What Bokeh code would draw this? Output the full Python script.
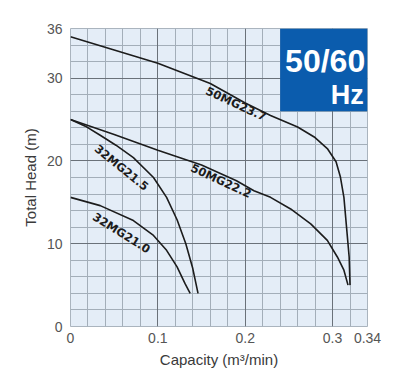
from bokeh.plotting import figure
from bokeh.models import Range1d, FixedTicker, Grid, Label, BoxAnnotation
from bokeh.core.properties import value
from bokeh.embed import file_html
from bokeh.resources import INLINE
import math

# ---- data ----
q_50MG23_7 = [0.0, 0.05, 0.10, 0.149, 0.160, 0.200, 0.229, 0.260, 0.279, 0.294, 0.304, 0.309, 0.313, 0.316, 0.319, 0.320]
h_50MG23_7 = [35.0, 33.4, 31.8, 29.8, 29.35, 27.0, 25.5, 24.1, 22.9, 21.5, 19.9, 18.05, 15.6, 12.0, 8.4, 5.0]

q_50MG22_2 = [0.0, 0.05, 0.10, 0.150, 0.190, 0.210, 0.229, 0.252, 0.275, 0.294, 0.3055, 0.313, 0.3177]
h_50MG22_2 = [25.0, 23.2, 21.3, 19.5, 17.6, 16.4, 15.6, 14.2, 12.4, 10.4, 8.4, 6.8, 5.0]

q_32MG21_5 = [0.0, 0.017, 0.034, 0.052, 0.072, 0.095, 0.110, 0.122, 0.132, 0.140, 0.146]
h_32MG21_5 = [25.0, 24.2, 23.1, 21.9, 20.4, 18.0, 15.6, 12.9, 10.0, 7.0, 4.0]

q_32MG21_0 = [0.0, 0.034, 0.072, 0.095, 0.110, 0.122, 0.131, 0.137]
h_32MG21_0 = [15.6, 14.6, 12.8, 11.0, 9.2, 7.2, 5.2, 4.0]

series_names = ["50MG23.7", "50MG22.2", "32MG21.5", "32MG21.0"]
series_q = [q_50MG23_7, q_50MG22_2, q_32MG21_5, q_32MG21_0]
series_h = [h_50MG23_7, h_50MG22_2, h_32MG21_5, h_32MG21_0]

# curve label placement (x, y in data units, angle in degrees)
label_x = [0.1896, 0.1724, 0.0584, 0.0584]
label_y = [26.9, 17.6, 19.2, 11.3]
label_angle = [-25, -25, -39, -32]

x_ticks = [0, 0.1, 0.2, 0.3, 0.34]
x_tick_labels = ["0", "0.1", "0.2", "0.3", "0.34"]
y_ticks = [0, 10, 20, 30, 36]

X_MAX = 0.34
Y_MAX = 36

FONT = "Liberation Sans"

p = figure(frame_width=297, frame_height=298, output_backend="svg", toolbar_location=None,
           x_range=Range1d(0, X_MAX), y_range=Range1d(0, Y_MAX),
           min_border_left=70, min_border_right=25, min_border_top=28, min_border_bottom=50)
p.background_fill_color = "#e4edf7"
p.border_fill_color = "white"
p.outline_line_color = "#aab4be"
p.outline_line_width = 1

p.xgrid.visible = False
p.ygrid.visible = False

minor_x = [round(i * 0.02, 2) for i in range(18)]
minor_y = [i * 2 for i in range(19)]
major_x = [0, 0.1, 0.2, 0.3]
major_y = [0, 10, 20, 30]

for dim, ticks, col in [(0, minor_x, "#a3aeb9"), (1, minor_y, "#a3aeb9"),
                        (0, major_x, "#6a7179"), (1, major_y, "#6a7179")]:
    g = Grid(dimension=dim, ticker=FixedTicker(ticks=ticks), grid_line_color=col, grid_line_width=1)
    p.add_layout(g)

for ax in (p.xaxis[0], p.yaxis[0]):
    ax.axis_line_color = None
    ax.major_tick_line_color = None
    ax.minor_tick_line_color = None
    ax.major_tick_in = 0
    ax.major_tick_out = 0
    ax.minor_tick_out = 0
    ax.major_label_text_font = FONT
    ax.major_label_text_font_size = "14px"
    ax.major_label_text_color = "#555555"
    ax.axis_label_text_font = FONT
    ax.axis_label_text_font_size = "15px"
    ax.axis_label_text_font_style = "normal"
    ax.axis_label_text_color = "#3a3a3a"

p.xaxis.ticker = FixedTicker(ticks=x_ticks)
p.xaxis.major_label_overrides = {t: s for t, s in zip(x_ticks, x_tick_labels)}
p.yaxis.ticker = FixedTicker(ticks=y_ticks)
p.xaxis.major_label_standoff = 6
p.yaxis.major_label_standoff = 8
p.xaxis.axis_label = "Capacity (m³/min)"
p.yaxis.axis_label = "Total Head (m)"
p.xaxis.axis_label_standoff = 5
p.yaxis.axis_label_standoff = 5

for q, h in zip(series_q, series_h):
    p.line(q, h, line_color="#1c1c1c", line_width=1.6)

for name, lx, ly, la in zip(series_names, label_x, label_y, label_angle):
    p.text(x=[lx], y=[ly], text=[name], angle=math.radians(la),
           text_font=value("DejaVu Sans"), text_font_style="bold", text_font_size="11.5px",
           text_color="#1c1c1c", text_align="center", text_baseline="middle")

# 50/60 Hz badge
p.add_layout(BoxAnnotation(left=0.24, right=X_MAX, bottom=26, top=Y_MAX,
                           fill_color="#0b5cad", fill_alpha=1.0, line_color=None))
p.add_layout(Label(x=0.2915, y=32.1, text="50/60", text_color="white",
                   text_font=FONT, text_font_style="bold", text_font_size="32px",
                   text_align="center", text_baseline="middle"))
p.add_layout(Label(x=0.3356, y=28.0, text="Hz", text_color="white",
                   text_font=FONT, text_font_style="bold", text_font_size="27px",
                   text_align="right", text_baseline="middle"))

open("out.html", "w").write(file_html(p, INLINE))
